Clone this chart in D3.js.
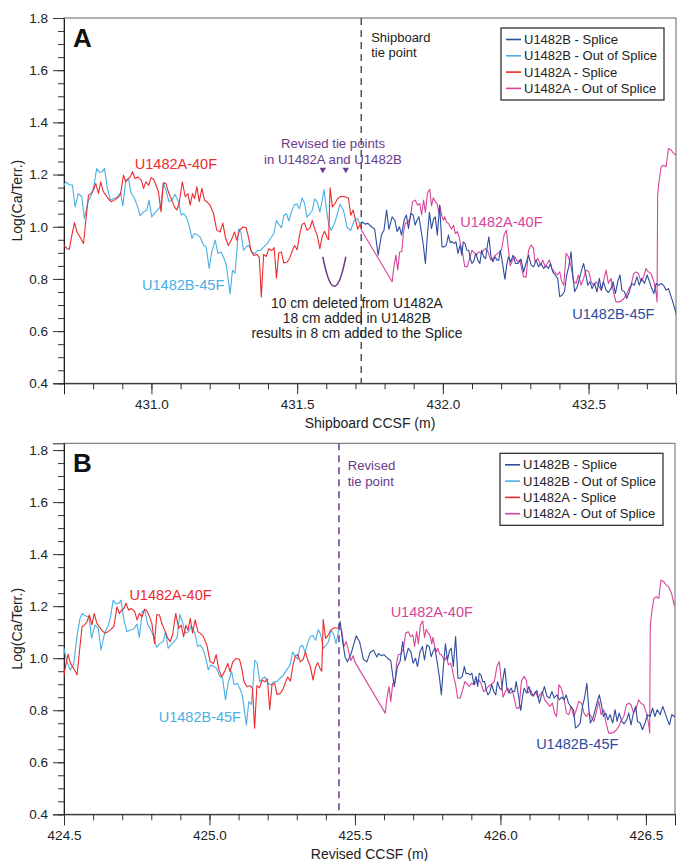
<!DOCTYPE html>
<html>
<head>
<meta charset="utf-8">
<script src="https://cdn.jsdelivr.net/npm/d3@7"></script>
<style>
    body { margin: 0; background: #fff; }
    svg { display: block; font-family: "Liberation Sans", Arial, sans-serif; }
</style>
</head>
<body>
<div id="chart"></div>
<script>

// U1482A Log(Ca/Terr.) by shipboard CCSF depth (m)
var u1482A = [
    [430.698,0.930],[430.710,0.917],[430.718,0.913],[430.727,0.968],[430.736,1.016],[430.744,0.981],[430.755,0.961],[430.767,0.936],
    [430.775,1.025],[430.784,1.121],[430.793,1.128],[430.801,1.140],[430.809,1.166],[430.818,1.128],[430.826,1.172],[430.835,1.134],
    [430.845,1.119],[430.853,1.106],[430.862,1.096],[430.873,1.102],[430.884,1.111],[430.894,1.124],[430.904,1.198],[430.912,1.172],
    [430.921,1.185],[430.928,1.191],[430.935,1.211],[430.944,1.185],[430.953,1.191],[430.965,1.179],[430.973,1.147],[430.981,1.172],
    [430.990,1.159],[430.999,1.188],[431.007,1.182],[431.016,1.159],[431.024,1.134],[431.033,1.057],[431.041,1.168],[431.050,1.166],
    [431.058,1.134],[431.070,1.102],[431.079,1.076],[431.087,1.064],[431.095,1.089],[431.106,1.172],[431.116,1.115],[431.125,1.127],
    [431.133,1.083],[431.141,1.127],[431.148,1.108],[431.156,1.153],[431.164,1.096],[431.173,1.147],[431.182,1.102],[431.190,1.096],
    [431.201,1.083],[431.213,1.051],[431.224,0.987],[431.236,0.980],[431.245,1.014],[431.254,0.958],[431.264,0.928],[431.276,0.954],
    [431.285,0.980],[431.293,0.948],[431.302,0.986],[431.314,0.999],[431.325,0.996],[431.333,0.960],[431.341,0.909],[431.351,0.890],
    [431.362,0.894],[431.370,0.884],[431.377,0.731],[431.385,0.894],[431.394,0.886],[431.403,0.916],[431.413,0.909],[431.421,0.920],
    [431.429,0.803],[431.437,0.899],[431.446,0.903],[431.454,0.861],[431.466,0.865],[431.475,0.881],[431.483,0.907],[431.491,0.928],
    [431.500,0.912],[431.509,0.973],[431.517,1.009],[431.525,1.014],[431.534,0.986],[431.544,0.996],[431.552,1.024],[431.560,0.992],
    [431.569,0.967],[431.578,0.916],[431.586,0.963],[431.594,0.983],[431.603,0.958],[431.608,0.950],[431.613,1.149],[431.621,1.076],
    [431.630,1.089],[431.639,1.108],[431.651,1.117],[431.664,1.115],[431.676,1.110],[431.684,1.044],[431.692,1.064],[431.699,1.032],
    [431.708,0.991],[431.716,1.009],[431.722,0.985],[431.826,0.789],[431.832,0.847],[431.839,0.891],[431.845,0.834],[431.852,0.904],
    [431.859,0.904],[431.865,0.981],[431.871,1.013],[431.880,1.016],[431.889,1.038],[431.896,1.096],[431.905,1.102],[431.913,1.083],
    [431.921,1.089],[431.927,1.045],[431.934,1.102],[431.940,1.055],[431.947,1.128],[431.955,1.144],[431.961,1.080],[431.967,1.111],
    [431.974,1.096],[431.980,1.089],[431.986,1.055],[431.990,1.080],[431.996,1.045],[432.002,1.025],[432.007,1.038],[432.013,1.016],
    [432.019,1.013],[432.025,1.000],[432.030,0.991],[432.037,1.006],[432.043,0.974],[432.050,0.981],[432.056,0.961],[432.061,0.930],
    [432.068,0.898],[432.075,0.847],[432.084,0.847],[432.092,0.878],[432.100,0.910],[432.107,0.901],[432.115,0.891],[432.123,0.904],
    [432.132,0.898],[432.139,0.910],[432.147,0.917],[432.155,0.904],[432.164,0.872],[432.172,0.878],[432.180,0.891],[432.189,0.898],
    [432.201,0.910],[432.210,0.968],[432.218,0.987],[432.224,0.923],[432.231,0.850],[432.239,0.872],[432.247,0.885],[432.256,0.866],
    [432.264,0.872],[432.277,0.808],[432.286,0.808],[432.294,0.910],[432.303,0.930],[432.311,0.917],[432.316,0.866],[432.326,0.878],
    [432.335,0.853],[432.343,0.872],[432.351,0.847],[432.358,0.859],[432.366,0.872],[432.374,0.840],[432.383,0.827],[432.392,0.815],
    [432.401,0.827],[432.408,0.789],[432.415,0.776],[432.423,0.898],[432.431,0.885],[432.440,0.847],[432.449,0.789],[432.457,0.783],
    [432.465,0.815],[432.474,0.776],[432.483,0.802],[432.491,0.834],[432.501,0.827],[432.509,0.789],[432.517,0.776],[432.526,0.789],
    [432.534,0.776],[432.543,0.757],[432.551,0.789],[432.560,0.834],[432.568,0.783],[432.577,0.802],[432.585,0.751],[432.594,0.712],
    [432.604,0.712],[432.612,0.715],[432.621,0.725],[432.630,0.740],[432.638,0.763],[432.646,0.776],[432.655,0.821],[432.663,0.827],
    [432.671,0.821],[432.680,0.789],[432.689,0.808],[432.697,0.840],[432.705,0.827],[432.714,0.821],[432.724,0.789],[432.732,0.744],
    [432.735,0.712],[432.737,1.115],[432.740,1.159],[432.749,1.230],[432.758,1.236],[432.766,1.230],[432.774,1.300],[432.783,1.294],
    [432.792,1.281],[432.800,1.274],[432.810,1.250],[432.820,1.200]
];

// U1482B Log(Ca/Terr.) by shipboard CCSF depth (m)
var u1482B = [
    [430.640,1.050],[430.652,0.990],[430.664,0.955],[430.676,0.975],[430.687,1.080],[430.698,1.153],[430.706,1.172],[430.717,1.162],
    [430.729,1.159],[430.738,1.076],[430.749,1.127],[430.761,1.115],[430.770,1.032],[430.784,1.102],[430.795,1.124],[430.803,1.159],
    [430.812,1.223],[430.822,1.208],[430.831,1.211],[430.839,1.223],[430.849,1.147],[430.859,1.102],[430.871,1.108],[430.882,1.112],
    [430.894,1.131],[430.902,1.080],[430.912,1.179],[430.921,1.185],[430.930,1.131],[430.942,1.108],[430.953,1.076],[430.961,1.042],
    [430.973,1.057],[430.984,1.064],[430.992,1.102],[431.001,1.038],[431.013,1.055],[431.024,1.067],[431.032,1.080],[431.041,1.168],
    [431.050,1.140],[431.060,1.096],[431.070,1.102],[431.081,1.124],[431.093,1.096],[431.102,1.045],[431.111,1.051],[431.121,1.034],
    [431.129,1.006],[431.139,0.955],[431.147,0.974],[431.156,0.970],[431.167,0.961],[431.179,0.930],[431.188,0.923],[431.198,0.840],
    [431.207,0.904],[431.219,0.949],[431.228,0.898],[431.239,0.903],[431.247,0.884],[431.256,0.858],[431.270,0.743],[431.278,0.833],
    [431.287,0.822],[431.299,0.992],[431.307,0.980],[431.316,0.909],[431.325,0.922],[431.334,0.928],[431.345,0.903],[431.354,0.897],
    [431.363,0.909],[431.374,0.909],[431.385,0.922],[431.397,0.935],[431.408,0.954],[431.420,0.973],[431.429,1.024],[431.437,1.009],
    [431.446,0.996],[431.454,1.043],[431.463,1.050],[431.472,1.022],[431.480,1.056],[431.489,1.082],[431.498,1.088],[431.508,1.069],
    [431.517,1.110],[431.525,1.091],[431.534,1.037],[431.544,1.050],[431.552,1.063],[431.560,1.107],[431.569,1.095],[431.578,1.056],
    [431.586,1.101],[431.592,1.142],[431.601,1.063],[431.609,1.005],[431.617,0.986],[431.630,1.018],[431.647,1.086],[431.659,1.063],
    [431.672,0.996],[431.684,0.986],[431.695,1.022],[431.707,1.031],[431.718,1.005],[431.724,1.018],[431.733,1.010],[431.743,1.013],
    [431.755,1.000],[431.766,0.991],[431.778,0.891],[431.789,0.968],[431.798,0.987],[431.807,1.064],[431.815,0.990],[431.826,1.038],
    [431.835,1.025],[431.843,0.981],[431.851,1.000],[431.858,0.968],[431.867,1.025],[431.875,1.045],[431.882,0.993],[431.890,1.051],
    [431.898,1.045],[431.905,1.006],[431.911,1.025],[431.918,1.038],[431.926,0.981],[431.933,0.930],[431.940,0.859],[431.947,0.968],
    [431.954,1.055],[431.961,0.993],[431.968,1.029],[431.974,1.038],[431.981,0.968],[431.989,1.083],[431.997,0.923],[432.004,0.923],
    [432.012,0.930],[432.019,0.968],[432.025,0.940],[432.032,0.942],[432.038,0.936],[432.045,0.942],[432.052,0.898],[432.059,0.930],
    [432.065,0.891],[432.070,0.942],[432.076,0.936],[432.082,0.910],[432.089,0.910],[432.094,0.878],[432.100,0.859],[432.106,0.868],
    [432.113,0.898],[432.120,0.872],[432.127,0.859],[432.133,0.910],[432.140,0.885],[432.147,0.878],[432.153,0.930],[432.158,0.961],
    [432.165,0.885],[432.172,0.866],[432.179,0.885],[432.186,0.872],[432.192,0.872],[432.197,0.910],[432.203,0.872],[432.209,0.827],
    [432.213,0.799],[432.219,0.853],[432.225,0.885],[432.233,0.866],[432.241,0.891],[432.249,0.859],[432.258,0.859],[432.268,0.876],
    [432.277,0.827],[432.286,0.863],[432.294,0.891],[432.303,0.853],[432.312,0.847],[432.320,0.872],[432.328,0.847],[432.337,0.859],
    [432.346,0.840],[432.354,0.850],[432.362,0.840],[432.369,0.859],[432.377,0.827],[432.385,0.815],[432.394,0.802],[432.401,0.732],
    [432.409,0.738],[432.417,0.751],[432.425,0.815],[432.432,0.847],[432.440,0.904],[432.446,0.815],[432.452,0.751],[432.461,0.770],
    [432.469,0.802],[432.476,0.834],[432.483,0.859],[432.491,0.815],[432.497,0.776],[432.505,0.789],[432.512,0.763],[432.520,0.783],
    [432.529,0.751],[432.537,0.802],[432.544,0.757],[432.551,0.789],[432.560,0.757],[432.568,0.748],[432.577,0.763],[432.584,0.789],
    [432.592,0.744],[432.600,0.789],[432.608,0.815],[432.614,0.757],[432.623,0.751],[432.631,0.725],[432.640,0.751],[432.648,0.783],
    [432.657,0.776],[432.666,0.808],[432.674,0.776],[432.682,0.802],[432.692,0.783],[432.701,0.815],[432.709,0.789],[432.717,0.763],
    [432.724,0.744],[432.732,0.783],[432.740,0.776],[432.749,0.783],[432.758,0.774],[432.766,0.757],[432.774,0.763],[432.781,0.740],
    [432.789,0.712],[432.797,0.681],[432.802,0.661]
];

// tie points (m)
var shipboardTie = 431.72;      // shipboard CCSF
var revisedTie = 425.445;       // revised CCSF
var revisedTieA = 431.667;      // shipboard depth of revised tie in U1482A
var revisedTieB = 431.588;      // shipboard depth of revised tie in U1482B

var legendLabels = ['U1482B - Splice', 'U1482B - Out of Splice', 'U1482A - Splice', 'U1482A - Out of Splice'];
var yTicks = [0.4, 0.6, 0.8, 1.0, 1.2, 1.4, 1.6, 1.8];
var xTicksA = [431.0, 431.5, 432.0, 432.5];
var xTicksB = [424.5, 425.0, 425.5, 426.0, 426.5];
var noteLines = ['10 cm deleted from U1482A', '18 cm added in U1482B', 'results in 8 cm added to the Splice'];

var colors = {
    bSplice: '#2f4c9e',
    bOut: '#4aafe4',
    aSplice: '#ec2a2d',
    aOut: '#d8449a',
    purple: '#6a3b8c'
};

var width = 683, height = 861;

var svg = d3.select('#chart').append('svg')
    .attr('width', width)
    .attr('height', height);

/**
 * Split a depth series at a tie depth, both halves get the
 * joining point so the two lines meet on the tie line.
 */
function splitAt(data, tie) {
    var i = d3.bisector(function (d) { return d[0]; }).left(data, tie);
    var before = data.slice(0, i);
    var after = data.slice(i);
    if (i > 0 && i < data.length) {
        var a = data[i - 1], b = data[i];
        var v = a[1] + (b[1] - a[1]) * (tie - a[0]) / (b[0] - a[0]);
        before.push([tie, v]);
        after.unshift([tie, v]);
    }
    return [before, after];
}

function shift(data, offset) {
    return data.map(function (d) { return [d[0] - offset, d[1]]; });
}

/**
 * Draw one panel: frame, axes, splice lines and legend.
 */
function drawPanel(cfg) {
    var left = 64, right = cfg.right, top = cfg.top, bottom = cfg.bottom;

    var x = d3.scaleLinear().domain(cfg.xDomain).range([left, right]);
    var y = d3.scaleLinear().domain(cfg.yDomain).range([bottom, top]);

    var g = svg.append('g').attr('class', 'panel-' + cfg.name);

    g.append('clipPath')
            .attr('id', 'clip-' + cfg.name)
        .append('rect')
            .attr('x', left)
            .attr('y', top)
            .attr('width', right - left)
            .attr('height', bottom - top);

    // frame
    g.append('rect')
        .attr('x', left)
        .attr('y', top)
        .attr('width', right - left)
        .attr('height', bottom - top)
        .style('fill', 'none')
        .style('stroke', '#666')
        .style('stroke-width', 1);

    // minor ticks
    g.append('g')
        .attr('transform', 'translate(0,' + bottom + ')')
        .call(d3.axisBottom(x)
            .tickValues(d3.range(Math.ceil(cfg.xDomain[0] * 10), Math.floor(cfg.xDomain[1] * 10) + 1).map(function (d) { return d / 10; }))
            .tickSize(6)
            .tickFormat(''))
        .call(function (s) { s.select('.domain').remove(); });

    g.append('g')
        .attr('transform', 'translate(' + left + ',0)')
        .call(d3.axisLeft(y)
            .tickValues(d3.range(8, 37).map(function (d) { return d / 20; }))
            .tickSize(6)
            .tickFormat(''))
        .call(function (s) { s.select('.domain').remove(); });

    // major axes
    var xAxis = g.append('g')
        .attr('transform', 'translate(0,' + bottom + ')')
        .call(d3.axisBottom(x)
            .tickValues(cfg.xTicks)
            .tickSize(11)
            .tickPadding(5)
            .tickFormat(d3.format('.1f')));

    var yAxis = g.append('g')
        .attr('transform', 'translate(' + left + ',0)')
        .call(d3.axisLeft(y)
            .tickValues(yTicks)
            .tickSize(11)
            .tickPadding(5)
            .tickFormat(d3.format('.1f')));

    g.selectAll('.tick line').style('stroke', '#333');
    g.selectAll('.domain').style('stroke', '#222');
    [xAxis, yAxis].forEach(function (a) {
        a.selectAll('text')
            .style('font-size', '13.5px')
            .style('fill', '#222')
            .style('font-family', '"Liberation Sans", Arial, sans-serif');
    });

    g.append('text')
        .attr('x', (left + right) / 2)
        .attr('y', bottom + 45)
        .attr('text-anchor', 'middle')
        .style('font-size', '14px')
        .style('fill', '#222')
        .text(cfg.xLabel);

    g.append('text')
        .attr('transform', 'translate(22,' + (top + bottom) / 2 + ') rotate(-90)')
        .attr('text-anchor', 'middle')
        .style('font-size', '14px')
        .style('fill', '#222')
        .text('Log(Ca/Terr.)');

    // tie line
    g.append('line')
        .attr('x1', x(cfg.tie))
        .attr('x2', x(cfg.tie))
        .attr('y1', top)
        .attr('y2', bottom)
        .style('stroke', cfg.tieColor)
        .style('stroke-width', 1.5)
        .style('stroke-dasharray', '7,5');

    var line = d3.line()
        .x(function (d) { return x(d[0]); })
        .y(function (d) { return y(d[1]); });

    var plot = g.append('g').attr('clip-path', 'url(#clip-' + cfg.name + ')');
    cfg.series.forEach(function (s) {
        plot.append('path')
            .datum(s.data)
            .attr('d', line)
            .style('fill', 'none')
            .style('stroke', s.color)
            .style('stroke-width', 1.1)
            .style('stroke-linejoin', 'round');
    });

    // curve labels
    cfg.labels.forEach(function (l) {
        g.append('text')
            .attr('x', x(l.x))
            .attr('y', y(l.y))
            .attr('dy', '0.36em')
            .attr('text-anchor', l.anchor || 'middle')
            .style('font-size', (l.size || 14.5) + 'px')
            .style('fill', l.color)
            .text(l.text);
    });

    g.append('text')
        .attr('x', left + 9)
        .attr('y', top + 29)
        .style('font-size', '26px')
        .style('font-weight', 'bold')
        .style('fill', '#111')
        .text(cfg.name);

    // legend
    var lx = right - 175, ly = top + 10;
    var legend = g.append('g').attr('transform', 'translate(' + lx + ',' + ly + ')');
    legend.append('rect')
        .attr('width', 163)
        .attr('height', 72)
        .style('fill', '#fff')
        .style('stroke', '#222')
        .style('stroke-width', 1.2);
    var legendColors = [colors.bSplice, colors.bOut, colors.aSplice, colors.aOut];
    var rows = legend.selectAll('g.row')
        .data(legendLabels)
      .enter().append('g')
        .attr('class', 'row')
        .attr('transform', function (d, i) { return 'translate(0,' + (11.5 + i * 16.3) + ')'; });
    rows.append('line')
        .attr('x1', 5)
        .attr('x2', 20)
        .style('stroke', function (d, i) { return legendColors[i]; })
        .style('stroke-width', 1.6);
    rows.append('text')
        .attr('x', 23)
        .attr('dy', '0.36em')
        .style('font-size', '13px')
        .style('fill', '#222')
        .text(function (d) { return d; });

    return {x: x, y: y, g: g};
}

// Panel A: shipboard splice
var aA = splitAt(u1482A, shipboardTie);
var bA = splitAt(u1482B, shipboardTie);

var panelA = drawPanel({
    name: 'A',
    top: 18,
    bottom: 383.3,
    right: 676,
    xDomain: [430.7, 432.8],
    yDomain: [0.4, 1.8],
    xTicks: xTicksA,
    xLabel: 'Shipboard CCSF (m)',
    tie: shipboardTie,
    tieColor: '#555',
    series: [
        {data: bA[0], color: colors.bOut},
        {data: aA[0], color: colors.aSplice},
        {data: aA[1], color: colors.aOut},
        {data: bA[1], color: colors.bSplice}
    ],
    labels: [
        {text: 'U1482A-40F', x: 431.084, y: 1.243, color: colors.aSplice},
        {text: 'U1482B-45F', x: 431.109, y: 0.777, color: colors.bOut},
        {text: 'U1482A-40F', x: 432.201, y: 1.019, color: colors.aOut},
        {text: 'U1482B-45F', x: 432.585, y: 0.668, color: colors.bSplice},
        {text: 'Shipboard', x: 431.754, y: 1.726, color: '#222', anchor: 'start', size: 13},
        {text: ' tie point', x: 431.754, y: 1.667, color: '#222', anchor: 'start', size: 13},
        {text: 'Revised tie points', x: 431.623, y: 1.320, color: colors.purple, size: 13.2},
        {text: 'in U1482A and U1482B', x: 431.623, y: 1.258, color: colors.purple, size: 13.2},
        {text: noteLines[0], x: 431.705, y: 0.706, color: '#222', size: 13.8},
        {text: noteLines[1], x: 431.705, y: 0.649, color: '#222', size: 13.8},
        {text: noteLines[2], x: 431.705, y: 0.592, color: '#222', size: 13.8}
    ]
});

// revised tie markers and the V between them
panelA.g.selectAll('path.tri')
    .data([revisedTieB, revisedTieA])
  .enter().append('path')
    .attr('class', 'tri')
    .attr('d', d3.symbol().type(d3.symbolTriangle).size(18))
    .attr('transform', function (d) { return 'translate(' + panelA.x(d) + ',' + panelA.y(1.219) + ') rotate(180)'; })
    .style('fill', colors.purple);

var vx0 = panelA.x(revisedTieB), vx1 = panelA.x(revisedTieA);
var vTop = panelA.y(0.885), vBot = panelA.y(0.772);
panelA.g.append('path')
    .attr('d', 'M' + vx0 + ',' + vTop + 'Q' + (vx0 + vx1) / 2 + ',' + (2 * vBot - vTop) + ' ' + vx1 + ',' + vTop)
    .style('fill', 'none')
    .style('stroke', colors.purple)
    .style('stroke-width', 1.5);

// Panel B: revised splice
var offA = revisedTieA - revisedTie;
var offB = revisedTieB - revisedTie;
var aB = splitAt(shift(u1482A, offA), revisedTie);
var bB = splitAt(shift(u1482B, offB), revisedTie);

drawPanel({
    name: 'B',
    top: 443.3,
    bottom: 814.3,
    right: 675,
    xDomain: [424.5, 426.6],
    yDomain: [0.4, 1.826],
    xTicks: xTicksB,
    xLabel: 'Revised CCSF (m)',
    tie: revisedTie,
    tieColor: colors.purple,
    series: [
        {data: bB[0], color: colors.bOut},
        {data: aB[0], color: colors.aSplice},
        {data: aB[1], color: colors.aOut},
        {data: bB[1], color: colors.bSplice}
    ],
    labels: [
        {text: 'U1482A-40F', x: 424.866, y: 1.242, color: colors.aSplice},
        {text: 'U1482B-45F', x: 424.967, y: 0.775, color: colors.bOut},
        {text: 'U1482A-40F', x: 425.764, y: 1.178, color: colors.aOut},
        {text: 'U1482B-45F', x: 426.264, y: 0.670, color: colors.bSplice},
        {text: 'Revised', x: 425.475, y: 1.741, color: colors.purple, anchor: 'start', size: 13.2},
        {text: 'tie point', x: 425.475, y: 1.681, color: colors.purple, anchor: 'start', size: 13.2}
    ]
});

</script>
</body>
</html>
